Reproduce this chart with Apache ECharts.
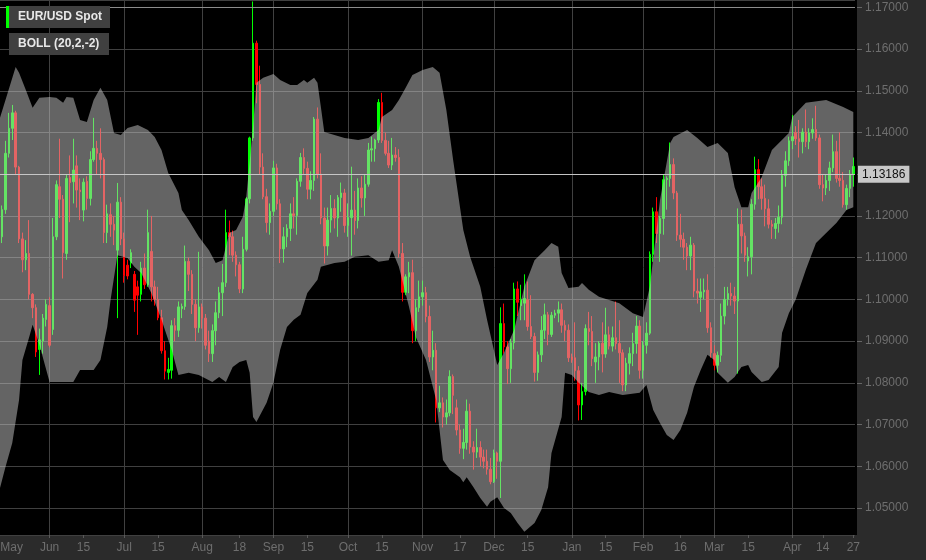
<!DOCTYPE html>
<html><head><meta charset="utf-8">
<script src="https://cdn.jsdelivr.net/npm/echarts@6/dist/echarts.min.js"></script>
<style>html,body{margin:0;padding:0;background:#2b2b2b;}#c{width:926px;height:560px;}</style>
</head><body><div id="c"></div>
<script>
// ---- categories: trading days (weekdays) 2015-05-11 .. 2016-04-27 ----
const firstDay = '2015-05-11', lastDay = '2016-04-27';
const dates = [];
for (let d = new Date(firstDay + 'T00:00:00Z'); d <= new Date(lastDay + 'T00:00:00Z'); d.setUTCDate(d.getUTCDate() + 1)) {
  const wd = d.getUTCDay();
  if (wd !== 0 && wd !== 6) dates.push(d.toISOString().slice(0, 10));
}

// ---- x tick labels ----
const xTickDates = ['2015-05-11','2015-06-01','2015-06-15','2015-07-01','2015-07-15','2015-08-03','2015-08-18','2015-09-01','2015-09-15','2015-10-01','2015-10-15','2015-11-02','2015-11-17','2015-12-01','2015-12-15','2016-01-01','2016-01-15','2016-02-01','2016-02-16','2016-03-01','2016-03-15','2016-04-01','2016-04-14','2016-04-27'];
const xTickLabels = ['May','Jun','15','Jul','15','Aug','18','Sep','15','Oct','15','Nov','17','Dec','15','Jan','15','Feb','16','Mar','15','Apr','14','27'];
const monthStartDates = ['2015-06-01','2015-07-01','2015-08-03','2015-09-01','2015-10-01','2015-11-02','2015-12-01','2016-01-01','2016-02-01','2016-03-01','2016-04-01'];

// ---- value axis range ----
const yMin = 1.04353, yMax = 1.17175;
const lastPrice = 1.13186;
const rangeHigh = 1.1710;

// ---- OHLC (EUR/USD Spot) ----
const opens = [
 1.1205,1.1150,1.1215,1.1350,1.1410,1.1447,1.1317,1.1145,1.1095,1.1110,1.1012,1.0980,1.0880,1.0900,1.0952,
 1.0985,1.0928,1.1150,1.1270,1.1240,1.1110,1.1292,1.1282,1.1320,1.1262,1.1214,1.1283,1.1242,1.1335,1.1362,1.1350,1.1335,1.1160,1.1203,1.1180,1.1118,1.1233,
 1.1145,1.1082,1.1087,1.1060,1.1030,1.1012,1.1075,1.1035,1.1115,1.1030,1.1000,1.0956,1.0877,1.0825,1.0830,1.0937,1.0926,1.0978,1.0983,1.1091,1.1060,1.0988,1.0932,
 1.0982,1.0955,1.0900,1.0870,1.0925,1.0968,1.1016,1.1040,1.1160,1.1150,1.1106,1.1083,1.1025,1.1120,1.1241,1.1387,1.1614,1.1515,1.1317,1.1246,1.1184,
 1.1211,1.1315,1.1229,1.1121,1.1150,1.1170,1.1205,1.1201,1.1283,1.1340,1.1314,1.1264,1.1285,1.1432,1.1300,1.1195,1.1128,1.1190,1.1218,1.1195,1.1244,1.1255,
 1.1177,1.1196,1.1214,1.1189,1.1267,1.1243,1.1276,1.1358,1.1361,1.1382,1.1472,1.1381,1.1350,1.1322,1.1346,1.1340,1.1110,1.1017,1.1054,1.1064,1.0925,1.0980,
 1.1006,1.1016,1.0959,1.0862,1.0878,1.0740,1.0752,1.0718,1.0728,1.0815,1.0740,1.0687,1.0643,1.0657,1.0732,1.0646,1.0634,1.0645,1.0622,1.0612,1.0593,
 1.0563,1.0632,1.0612,1.0942,1.0886,1.0834,1.0896,1.1025,1.0985,1.0991,1.0999,1.0935,1.0911,1.0825,1.0867,1.0926,1.0963,1.0916,1.0962,1.0967,1.0975,1.0938,1.0926,
 1.0862,1.0860,1.0829,1.0747,1.0779,1.0930,1.0923,1.0850,1.0862,1.0895,1.0869,1.0915,1.0888,1.0908,1.0894,1.0872,1.0795,1.0847,1.0870,1.0894,1.0936,
 1.0830,1.0890,1.0919,1.1108,1.1210,1.1158,1.1194,1.1287,1.1290,1.1323,1.1255,1.1154,1.1144,1.1125,1.1104,1.1130,1.1020,1.1005,1.1018,1.1022,1.0932,
 1.0870,1.0842,1.0866,1.0960,1.1000,1.1014,1.1008,1.0996,1.1180,1.1152,1.1092,1.1102,1.1228,1.1311,1.1270,1.1242,1.1217,1.1180,1.1170,1.1182,1.1197,1.1297,1.1332,
 1.1380,1.1400,1.1385,1.1378,1.1401,1.1378,1.1399,1.1407,1.1387,1.1275,1.1267,1.1285,1.1315,1.1354,1.1290,1.1285,1.1227,1.1266,1.1300
];
const highs = [
 1.1225,1.1225,1.1380,1.1447,1.1466,1.1452,1.1320,1.1160,1.1142,1.1190,1.1015,1.0988,1.0930,1.0965,1.1000,
 1.1005,1.1195,1.1285,1.1385,1.1250,1.1298,1.1345,1.1385,1.1345,1.1290,1.1290,1.1295,1.1355,1.1435,1.1380,1.1410,1.1340,1.1227,1.1230,1.1200,1.1279,1.1245,
 1.1160,1.1095,1.1120,1.1068,1.1045,1.1090,1.1110,1.1215,1.1200,1.1045,1.1030,1.0975,1.0900,1.0860,1.0950,1.0955,1.0995,1.0990,1.1129,1.1100,1.1070,1.1000,1.1114,
 1.0990,1.0965,1.0925,1.0940,1.0995,1.1030,1.1085,1.1215,1.1189,1.1165,1.1115,1.1090,1.1150,1.1245,1.1390,1.1714,1.1620,1.1560,1.1350,1.1265,1.1230,
 1.1332,1.1325,1.1240,1.1173,1.1180,1.1230,1.1245,1.1290,1.1351,1.1362,1.1330,1.1307,1.1437,1.1460,1.1350,1.1220,1.1220,1.1250,1.1240,1.1250,1.1280,1.1265,
 1.1230,1.1318,1.1260,1.1290,1.1295,1.1300,1.1375,1.1390,1.1385,1.1480,1.1495,1.1400,1.1380,1.1387,1.1365,1.1360,1.1135,1.1060,1.1090,1.1095,1.1000,1.1045,
 1.1045,1.1030,1.0985,1.0925,1.0895,1.0793,1.0765,1.0760,1.0830,1.0820,1.0760,1.0700,1.0690,1.0760,1.0750,1.0660,1.0690,1.0660,1.0640,1.0640,1.0620,
 1.0640,1.0635,1.0981,1.0990,1.0900,1.0905,1.1040,1.1043,1.1035,1.1060,1.1043,1.1010,1.0920,1.0875,1.0960,1.0990,1.0970,1.0970,1.0975,1.0995,1.0990,1.0950,1.0940,
 1.0870,1.0945,1.0840,1.0800,1.0940,1.0970,1.0960,1.0895,1.0900,1.0945,1.0980,1.0935,1.0935,1.0995,1.0950,1.0880,1.0860,1.0885,1.0920,1.0960,1.0950,
 1.0900,1.0945,1.1115,1.1220,1.1245,1.1200,1.1300,1.1295,1.1376,1.1338,1.1260,1.1205,1.1160,1.1135,1.1150,1.1135,1.1050,1.1050,1.1050,1.1060,1.0945,
 1.0890,1.0875,1.0990,1.1030,1.1030,1.1040,1.1030,1.1218,1.1215,1.1160,1.1125,1.1240,1.1342,1.1336,1.1290,1.1275,1.1240,1.1190,1.1195,1.1225,1.1310,1.1355,1.1390,
 1.1442,1.1415,1.1430,1.1410,1.1455,1.1410,1.1434,1.1464,1.1395,1.1300,1.1300,1.1330,1.1395,1.1380,1.1400,1.1305,1.1275,1.1310,1.1340
];
const lows = [
 1.1130,1.1135,1.1205,1.1340,1.1382,1.1298,1.1135,1.1065,1.1070,1.1000,1.0955,1.0862,1.0819,1.0870,1.0935,
 1.0885,1.0915,1.1142,1.1195,1.1050,1.1095,1.1185,1.1230,1.1220,1.1190,1.1187,1.1215,1.1225,1.1330,1.1300,1.1290,1.1135,1.1135,1.1150,1.1130,1.0955,1.1130,
 1.1040,1.1048,1.1075,1.0970,1.0915,1.0995,1.1025,1.1030,1.0995,1.0985,1.0950,1.0870,1.0808,1.0808,1.0810,1.0900,1.0910,1.0955,1.0975,1.1020,1.0965,1.0900,1.0920,
 1.0930,1.0880,1.0850,1.0850,1.0890,1.0955,1.0960,1.1030,1.1106,1.1090,1.1055,1.1015,1.1015,1.1115,1.1230,1.1380,1.1470,1.1300,1.1240,1.1160,1.1155,
 1.1200,1.1215,1.1087,1.1088,1.1125,1.1140,1.1170,1.1155,1.1270,1.1300,1.1240,1.1240,1.1260,1.1290,1.1180,1.1086,1.1105,1.1160,1.1170,1.1150,1.1210,1.1160,
 1.1150,1.1105,1.1155,1.1170,1.1220,1.1200,1.1270,1.1330,1.1330,1.1375,1.1375,1.1345,1.1315,1.1310,1.1330,1.1100,1.0995,1.1010,1.1015,1.0895,1.0900,1.0970,
 1.0985,1.0945,1.0850,1.0830,1.0705,1.0730,1.0693,1.0700,1.0720,1.0725,1.0674,1.0630,1.0617,1.0640,1.0630,1.0592,1.0620,1.0600,1.0595,1.0580,1.0557,
 1.0560,1.0570,1.0524,1.0870,1.0797,1.0800,1.0880,1.0960,1.0950,1.0950,1.0925,1.0905,1.0803,1.0805,1.0850,1.0905,1.0890,1.0910,1.0955,1.0945,1.0920,1.0900,1.0850,
 1.0848,1.0805,1.0710,1.0711,1.0770,1.0890,1.0840,1.0800,1.0830,1.0825,1.0860,1.0880,1.0875,1.0880,1.0800,1.0780,1.0780,1.0820,1.0840,1.0870,1.0810,
 1.0810,1.0870,1.0915,1.1090,1.1135,1.1090,1.1155,1.1215,1.1270,1.1240,1.1140,1.1125,1.1095,1.1070,1.1070,1.1005,1.0990,1.0970,1.1000,1.0920,1.0860,
 1.0830,1.0825,1.0850,1.0940,1.0985,1.0985,1.0965,1.0822,1.1110,1.1090,1.1055,1.1060,1.1215,1.1240,1.1215,1.1175,1.1170,1.1145,1.1145,1.1160,1.1180,1.1270,1.1320,
 1.1360,1.1370,1.1340,1.1350,1.1365,1.1360,1.1385,1.1380,1.1265,1.1235,1.1250,1.1260,1.1305,1.1280,1.1270,1.1220,1.1215,1.1245,1.1270
];
const closes = [
 1.1150,1.1215,1.1350,1.1410,1.1447,1.1317,1.1145,1.1095,1.1110,1.1012,1.0980,1.0874,1.0903,1.0955,1.0988,
 1.0890,1.1150,1.1275,1.1240,1.1112,1.1290,1.1280,1.1310,1.1262,1.1258,1.1281,1.1242,1.1335,1.1362,1.1350,1.1335,1.1160,1.1205,1.1180,1.1166,1.1233,1.1145,
 1.1057,1.1056,1.1112,1.0998,1.1010,1.1075,1.1035,1.1160,1.1030,1.1000,1.0956,1.0877,1.0828,1.0832,1.0937,1.0926,1.0982,1.0983,1.1091,1.1060,1.0988,1.0932,1.0982,
 1.0955,1.0890,1.0870,1.0925,1.0968,1.1016,1.1040,1.1160,1.1150,1.1106,1.1083,1.1025,1.1120,1.1241,1.1387,1.1614,1.1515,1.1317,1.1246,1.1184,1.1211,
 1.1315,1.1229,1.1121,1.1150,1.1170,1.1205,1.1201,1.1283,1.1340,1.1314,1.1264,1.1285,1.1432,1.1300,1.1195,1.1128,1.1190,1.1218,1.1195,1.1244,1.1255,1.1177,
 1.1196,1.1214,1.1189,1.1267,1.1243,1.1276,1.1358,1.1361,1.1382,1.1472,1.1381,1.1350,1.1322,1.1346,1.1340,1.1110,1.1017,1.1054,1.1064,1.0925,1.0980,1.1006,
 1.1016,1.0959,1.0862,1.0878,1.0740,1.0752,1.0718,1.0728,1.0815,1.0770,1.0687,1.0643,1.0657,1.0732,1.0646,1.0634,1.0645,1.0622,1.0612,1.0593,1.0563,
 1.0632,1.0612,1.0942,1.0886,1.0834,1.0896,1.1025,1.0993,1.1000,1.1002,1.0935,1.0911,1.0825,1.0867,1.0926,1.0963,1.0916,1.0962,1.0967,1.0975,1.0938,1.0926,1.0860,
 1.0855,1.0829,1.0747,1.0779,1.0930,1.0923,1.0858,1.0862,1.0895,1.0869,1.0915,1.0888,1.0908,1.0894,1.0872,1.0795,1.0847,1.0870,1.0894,1.0936,1.0830,
 1.0890,1.0919,1.1108,1.1210,1.1158,1.1194,1.1287,1.1290,1.1323,1.1255,1.1154,1.1144,1.1125,1.1104,1.1130,1.1020,1.1015,1.1018,1.1022,1.0932,1.0872,
 1.0842,1.0866,1.0960,1.1000,1.1014,1.1008,1.0996,1.1180,1.1152,1.1106,1.1102,1.1228,1.1311,1.1270,1.1242,1.1217,1.1180,1.1175,1.1182,1.1197,1.1297,1.1332,1.1380,
 1.1390,1.1385,1.1378,1.1401,1.1378,1.1399,1.1407,1.1387,1.1275,1.1267,1.1285,1.1315,1.1354,1.1290,1.1285,1.1227,1.1266,1.1300,1.13186
];

// ---- Bollinger band (20,2,-2) outline, read at category indices ----
const upperIdx = [0,2,5,6,8,10,12,15,17,19,20,22,24,26,28,30,32,34,36,38,41,44,46,48,50,53,54,56,59,62,64,66,68,70,72,73,75,76,78,81,83,86,88,90,91,93,94,95,96,99,102,106,109,112,113,116,118,120,122,125,128,130,132,134,137,139,142,144,146,147,149,152,155,158,161,163,165,166,168,171,172,174,177,183,187,190,192,195,198,199,203,206,209,212,215,217,219,221,222,225,228,233,234,238,244,249,252];
const upperBand = [1.1425,1.1478,1.1557,1.1543,1.1502,1.1459,1.1483,1.1485,1.1483,1.1471,1.1485,1.1483,1.1430,1.1425,1.1478,1.1507,1.1478,1.1399,1.1394,1.1411,1.1418,1.1406,1.1389,1.1358,1.1303,1.1255,1.1214,1.1190,1.1150,1.1118,1.1087,1.1094,1.1159,1.1166,1.1198,1.1245,1.1413,1.1519,1.1531,1.1540,1.1526,1.1514,1.1514,1.1526,1.1519,1.1531,1.1519,1.1461,1.1401,1.1394,1.1387,1.1382,1.1387,1.1406,1.1437,1.1454,1.1478,1.1507,1.1538,1.1550,1.1557,1.1543,1.1454,1.1334,1.1166,1.1102,1.1030,1.0951,1.0879,1.0843,1.0872,1.0927,1.1030,1.1094,1.1118,1.1135,1.1126,1.1063,1.1027,1.1030,1.1039,1.1023,1.1006,1.0991,1.0967,1.0958,1.1030,1.1238,1.1375,1.1389,1.1406,1.1387,1.1365,1.1375,1.1351,1.1269,1.1221,1.1221,1.1255,1.1293,1.1358,1.1399,1.1437,1.1471,1.1478,1.1461,1.1449];
const lowerIdx = [0,2,4,6,7,9,10,12,15,18,22,24,28,30,32,33,35,38,40,42,45,48,51,53,56,59,63,65,67,69,71,73,74,75,76,79,81,83,85,87,89,91,94,95,99,102,105,109,112,115,116,118,121,123,126,129,131,133,136,137,138,140,142,144,145,147,149,151,153,155,158,160,162,163,166,167,169,171,174,177,180,184,189,191,193,195,197,199,201,203,205,207,209,211,212,215,217,219,221,222,225,227,230,231,233,235,238,241,244,247,250,252];
const lowerBand = [1.0536,1.0598,1.0656,1.0759,1.0855,1.0910,1.0939,1.0891,1.0802,1.0802,1.0802,1.0831,1.0831,1.0855,1.0934,1.0999,1.1106,1.1099,1.1078,1.1063,1.1015,1.0951,1.0879,1.0819,1.0824,1.0819,1.0802,1.0814,1.0802,1.0838,1.0850,1.0855,1.0824,1.0718,1.0706,1.0752,1.0800,1.0879,1.0934,1.0951,1.0963,1.1015,1.1047,1.1078,1.1087,1.1090,1.1102,1.1106,1.1090,1.1094,1.1118,1.1078,1.0982,1.0910,1.0855,1.0759,1.0615,1.0591,1.0574,1.0562,1.0574,1.0550,1.0524,1.0503,1.0515,1.0526,1.0500,1.0488,1.0464,1.0443,1.0464,1.0495,1.0550,1.0632,1.0718,1.0824,1.0819,1.0800,1.0778,1.0771,1.0778,1.0771,1.0776,1.0795,1.0735,1.0704,1.0675,1.0663,1.0687,1.0728,1.0790,1.0831,1.0867,1.0855,1.0824,1.0800,1.0814,1.0838,1.0843,1.0826,1.0802,1.0807,1.0838,1.0920,1.0967,1.0999,1.1071,1.1135,1.1159,1.1183,1.1214,1.1221];

// ---------------------------------------------------------------
const labelMap = {};
xTickDates.forEach((d, k) => { labelMap[d] = xTickLabels[k]; });
const monthSet = new Set(monthStartDates);
const FONT = '"Liberation Sans", Arial, Helvetica, sans-serif';

const chart = echarts.init(document.getElementById('c'), null, {renderer: 'canvas'});
const option = {
  animation: false,
  backgroundColor: '#2b2b2b',
  textStyle: {fontFamily: FONT},
  grid: {left: -3, right: 71, top: 0, bottom: 25, containLabel: false, outerBoundsMode: 'none'},
  xAxis: {
    type: 'category', data: dates, boundaryGap: true,
    axisLine: {show: false},
    axisTick: {show: true, length: 3, alignWithLabel: true, interval: (i, v) => v in labelMap, lineStyle: {color: '#5a5a5a'}},
    axisLabel: {
      interval: (i, v) => v in labelMap,
      formatter: (v, i) => i === 0 ? '{first|' + labelMap[v] + '}' : labelMap[v],
      color: '#6e6e6e', fontSize: 12, margin: 7, fontFamily: FONT,
      rich: {first: {padding: [0, 0, 0, 26], color: '#6e6e6e', fontSize: 12, fontFamily: FONT}}
    },
    splitLine: {show: true, alignWithLabel: true, interval: (i, v) => monthSet.has(v), lineStyle: {color: '#404040', width: 1}}
  },
  yAxis: {
    type: 'value', position: 'right', min: yMin, max: yMax, splitNumber: 12, offset: 2,
    axisLine: {show: false},
    axisTick: {show: true, length: 5, lineStyle: {color: '#666666'}},
    axisLabel: {color: '#6e6e6e', fontSize: 12, margin: 8, showMinLabel: false, showMaxLabel: false, fontFamily: FONT,
      formatter: v => v.toFixed(5)},
    splitLine: {show: true, lineStyle: {color: '#404040', width: 1}}
  },
  graphic: [
    {type: 'rect', z: -10, silent: true, shape: {x: 0, y: 0, width: 857, height: 535}, style: {fill: '#000000'}},
    {type: 'rect', z: 100, silent: true, shape: {x: 7, y: 6, width: 103, height: 22}, style: {fill: '#404040'}},
    {type: 'rect', z: 101, silent: true, shape: {x: 6, y: 6, width: 3, height: 22}, style: {fill: '#00ff00'}},
    {type: 'text', z: 101, silent: true, x: 18, y: 17, style: {text: 'EUR/USD Spot', fill: '#e8e8e8', fontSize: 12, fontWeight: 'bold', fontFamily: FONT, verticalAlign: 'middle'}},
    {type: 'rect', z: 100, silent: true, shape: {x: 9, y: 33, width: 100, height: 22}, style: {fill: '#404040'}},
    {type: 'text', z: 101, silent: true, x: 18, y: 44, style: {text: 'BOLL (20,2,-2)', fill: '#e8e8e8', fontSize: 12, fontWeight: 'bold', fontFamily: FONT, verticalAlign: 'middle'}}
  ],
  series: [
    {
      type: 'candlestick', name: 'EUR/USD Spot', z: 2, barWidth: 2,
      data: dates.map((d, i) => [opens[i], closes[i], lows[i], highs[i]]),
      itemStyle: {color: '#00ff00', color0: '#ff0000', borderColor: '#00ff00', borderColor0: '#ff0000', borderWidth: 1}
    },
    {
      type: 'custom', name: 'BOLL (20,2,-2)', z: 5, silent: true,
      renderItem: (params, api) => {
        if (params.dataIndex !== 0) return null;
        const pts = [];
        for (let k = 0; k < upperIdx.length; k++) pts.push(api.coord([upperIdx[k], upperBand[k]]));
        for (let k = lowerIdx.length - 1; k >= 0; k--) pts.push(api.coord([lowerIdx[k], lowerBand[k]]));
        return {type: 'polygon', shape: {points: pts}, style: {fill: 'rgba(200,200,200,0.5)'}};
      },
      data: [[0, upperBand[0]]],
      encode: {x: 0, y: 1},
      markLine: {
        silent: true, symbol: ['none', 'none'], animation: false,
        data: [
          {yAxis: lastPrice, lineStyle: {color: '#c4c4c4', width: 1, type: 'solid'},
           label: {show: true, position: 'end', distance: 3, formatter: lastPrice.toFixed(5),
                   backgroundColor: '#c8c8c8', color: '#111', fontSize: 12, fontFamily: FONT, padding: [3, 4, 2, 4]}},
          {yAxis: rangeHigh, lineStyle: {color: '#8c8c8c', width: 1, type: 'solid'}, label: {show: false}}
        ]
      }
    }
  ]
};
chart.setOption(option);
</script></body></html>
